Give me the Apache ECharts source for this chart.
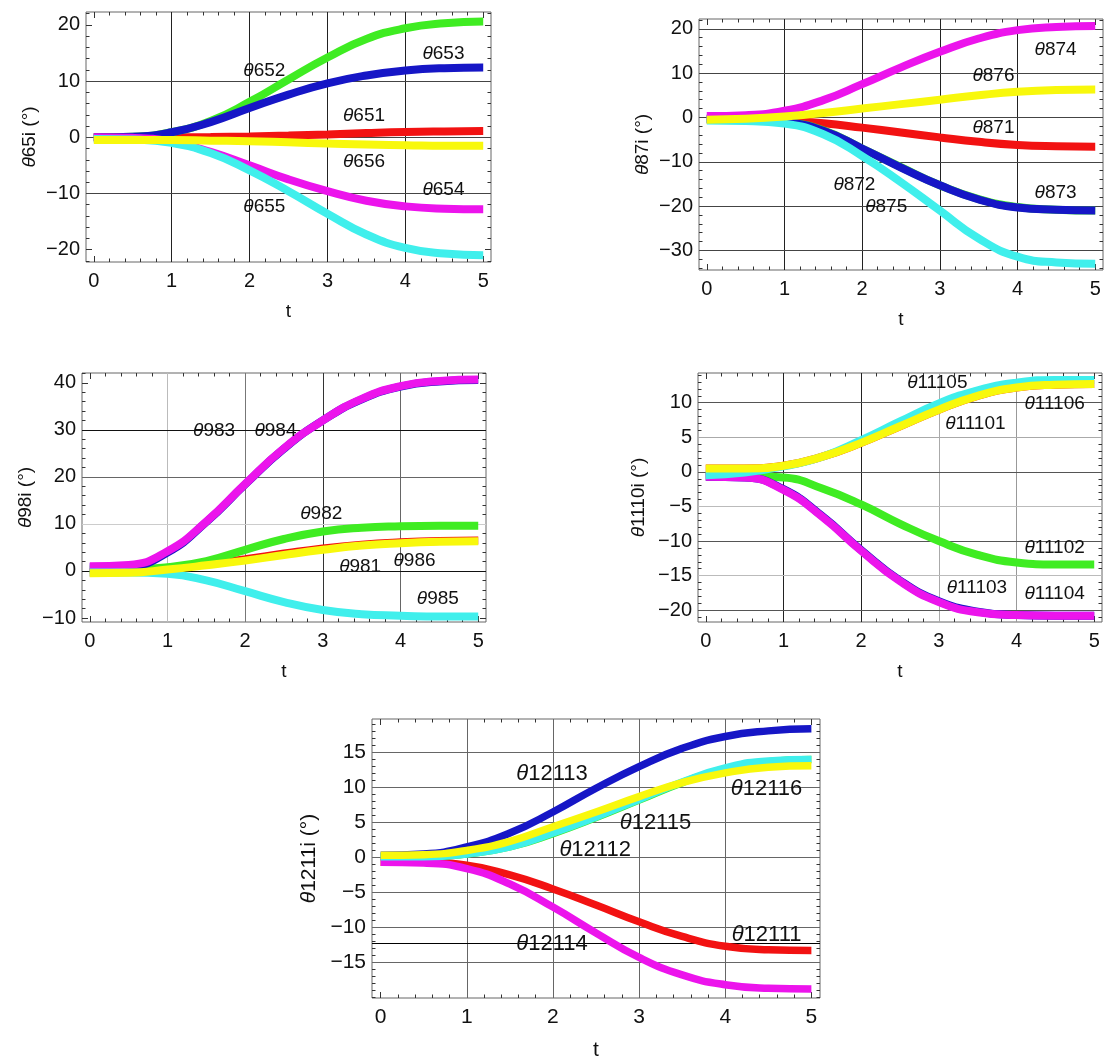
<!DOCTYPE html>
<html><head><meta charset="utf-8">
<script src="https://cdn.jsdelivr.net/npm/echarts@6/dist/echarts.min.js"></script>
<style>html,body{margin:0;padding:0;background:#fff}#c{width:1104px;height:1057px}</style>
</head><body><div id="c"></div>
<script>
// ---------- data ----------
const T = [0, 0.5, 1, 1.5, 2, 2.5, 3, 3.5, 4, 4.5, 5];
const xTicks = [0, 1, 2, 3, 4, 5];

// panel θ65i
const th651 = [0, 0, 0, 0.05, 0.15, 0.3, 0.5, 0.75, 0.95, 1.05, 1.1];
const th652 = [0, 0.1, 0.9, 2.9, 6.3, 10.3, 14.2, 17.5, 19.4, 20.3, 20.6];
const th653 = [0, 0.1, 0.9, 2.7, 5.2, 7.6, 9.6, 11.0, 11.9, 12.3, 12.4];
const th654 = [0, -0.1, -0.8, -2.6, -5.0, -7.5, -9.6, -11.3, -12.3, -12.7, -12.8];
const th655 = [-0.3, -0.4, -1.0, -2.8, -5.9, -9.6, -13.6, -17.3, -19.7, -20.7, -21.0];
const th656 = [-0.5, -0.5, -0.5, -0.6, -0.7, -0.9, -1.1, -1.3, -1.4, -1.5, -1.5];
const yTicks65 = [-20, -10, 0, 10, 20];
const labels65 = [["θ652", 2.19, 11.8], ["θ653", 4.49, 14.8], ["θ651", 3.47, 3.8], ["θ656", 3.47, -4.3], ["θ654", 4.49, -9.4], ["θ655", 2.19, -12.3]];

// panel θ87i
const th871 = [-0.5, -0.5, -0.7, -1.3, -2.3, -3.4, -4.5, -5.5, -6.2, -6.5, -6.6];
const th872 = [-0.3, -0.4, -1.0, -2.9, -7.0, -11.2, -15.3, -18.4, -20.2, -20.8, -21.0];
const th873 = [-0.3, -0.4, -1.0, -3.0, -7.0, -11.3, -15.3, -18.5, -20.3, -20.8, -21.0];
const th874 = [0.3, 0.5, 1.5, 3.9, 7.5, 11.3, 14.8, 17.8, 19.7, 20.4, 20.6];
const th875 = [-0.7, -0.8, -1.4, -3.8, -8.7, -14.6, -21.0, -27.3, -31.4, -32.7, -33.0];
const th876 = [-0.5, -0.3, 0.2, 1.0, 2.0, 3.0, 4.0, 5.0, 5.8, 6.2, 6.3];
const yTicks87 = [-30, -20, -10, 0, 10, 20];
const labels87 = [["θ874", 4.49, 15.3], ["θ876", 3.69, 9.4], ["θ871", 3.69, -2.4], ["θ872", 1.9, -15.1], ["θ875", 2.31, -20.1], ["θ873", 4.49, -17.0]];

// panel θ98i
const th981 = [-0.3, -0.2, 0.5, 1.4, 2.5, 3.7, 4.8, 5.6, 6.1, 6.4, 6.5];
const th982 = [0.3, 0.3, 0.8, 2.1, 4.5, 6.8, 8.4, 9.2, 9.5, 9.6, 9.6];
const th983 = [0.8, 1.0, 3.9, 10.4, 18.4, 26.0, 32.0, 36.5, 39.2, 40.3, 40.6];
const th984 = [1.0, 1.3, 4.2, 10.5, 18.5, 26.1, 32.0, 36.6, 39.3, 40.4, 40.7];
const th985 = [-0.3, -0.3, -0.6, -2.0, -4.3, -6.6, -8.3, -9.2, -9.5, -9.7, -9.7];
const th986 = [-0.5, -0.4, 0.3, 1.2, 2.2, 3.4, 4.5, 5.4, 5.9, 6.2, 6.3];
const yTicks98 = [-10, 0, 10, 20, 30, 40];
const labels98 = [["θ983", 1.6, 29.9], ["θ984", 2.39, 29.9], ["θ982", 2.98, 12.1], ["θ981", 3.48, 0.8], ["θ986", 4.18, 2.2], ["θ985", 4.48, -6.0]];

// panel θ1110i
const th11101 = [0.5, 0.5, 0.9, 2.2, 4.2, 6.6, 9.0, 11.0, 12.2, 12.6, 12.7];
const th11102 = [-0.7, -0.6, -0.8, -2.4, -4.7, -7.5, -10.0, -12.0, -13.1, -13.4, -13.4];
const th11103 = [-0.7, -0.8, -2.5, -6.4, -11.3, -15.7, -18.7, -20.2, -20.7, -20.8, -20.8];
const th11104 = [-0.7, -0.8, -2.6, -6.5, -11.4, -15.8, -18.8, -20.3, -20.7, -20.8, -20.8];
const th11105 = [-0.5, -0.1, 0.8, 2.2, 4.6, 7.3, 9.9, 11.8, 12.9, 13.3, 13.3];
const th11106 = [0.5, 0.5, 0.9, 2.2, 4.2, 6.6, 9.0, 11.0, 12.2, 12.6, 12.7];
const yTicks1110 = [-20, -15, -10, -5, 0, 5, 10];
const labels1110 = [["θ11105", 2.98, 12.9], ["θ11106", 4.49, 9.9], ["θ11101", 3.47, 6.9], ["θ11102", 4.49, -10.9], ["θ11103", 3.49, -16.8], ["θ11104", 4.49, -17.6]];

// panel θ1211i
const th12111 = [-0.7, -0.7, -1.1, -2.5, -4.5, -6.8, -9.2, -11.3, -12.7, -13.2, -13.3];
const th12112 = [0.1, 0.1, 0.5, 1.5, 3.4, 5.7, 8.2, 10.7, 12.7, 13.7, 14.0];
const th12113 = [0.3, 0.5, 1.5, 3.5, 6.5, 9.9, 13.0, 15.6, 17.3, 18.1, 18.4];
const th12114 = [-0.7, -0.8, -1.6, -3.8, -7.1, -10.8, -14.3, -16.8, -18.2, -18.7, -18.8];
const th12115 = [0.1, 0.1, 0.5, 1.5, 3.5, 5.8, 8.3, 10.8, 12.8, 13.8, 14.0];
const th12116 = [0.3, 0.4, 1.0, 2.3, 4.4, 6.5, 8.7, 10.7, 12.1, 12.9, 13.1];
const yTicks1211 = [-15, -10, -5, 0, 5, 10, 15];
const labels1211 = [["θ12113", 1.99, 11.9], ["θ12116", 4.48, 9.8], ["θ12115", 3.19, 5.0], ["θ12112", 2.49, 1.1], ["θ12114", 1.99, -12.4], ["θ12111", 4.48, -11.1]];
const refLine1211 = -12.2;

// ---------- styling / layout ----------
const COLORS = ['#f21212', '#3fec22', '#1616c6', '#ec14ec', '#40efec', '#f8f80c'];
const FONT = '"Liberation Sans", Arial, sans-serif';

const panels = [
  {box: [86, 12, 405, 250], yMin: -22.2, yMax: 22.3, yTicks: yTicks65, minor: 2, yName: '65i',
   series: [th651, th652, th653, th654, th655, th656], labels: labels65,
   hLines: [[10, '#444'], [0, '#444'], [-10, '#444']],
   vLines: [[1, '#222'], [2, '#222'], [3, '#222'], [4, '#222']],
   tickFont: 20, labFont: 19, nameFont: 19, lw: 8, nameGap: 47, tGap: 40},
  {box: [699, 19, 404, 251], yMin: -34.4, yMax: 22.2, yTicks: yTicks87, minor: 2, yName: '87i',
   series: [th871, th872, th873, th874, th875, th876], labels: labels87,
   hLines: [[20, '#444'], [10, '#444'], [0, '#444'], [-10, '#444'], [-20, '#444'], [-30, '#444']],
   vLines: [[1, '#222'], [2, '#222'], [3, '#222'], [4, '#222']],
   tickFont: 20, labFont: 19, nameFont: 19, lw: 8, nameGap: 47, tGap: 40},
  {box: [82, 373, 404, 249], yMin: -10.85, yMax: 42.1, yTicks: yTicks98, minor: 2, yName: '98i',
   series: [th981, th982, th983, th984, th985, th986], labels: labels98,
   hLines: [[30, '#111'], [20, '#666'], [10, '#ccc'], [0, '#111']],
   vLines: [[1, '#bbb'], [2, '#777'], [3, '#333'], [4, '#666']],
   tickFont: 20, labFont: 19, nameFont: 19, lw: 8, nameGap: 47, tGap: 40},
  {box: [698, 373, 404, 249], yMin: -21.7, yMax: 14.3, yTicks: yTicks1110, minor: 1, yName: '1110i',
   series: [th11101, th11102, th11103, th11104, th11105, th11106], labels: labels1110,
   hLines: [[10, '#555'], [5, '#aaa'], [0, '#555'], [-5, '#bbb'], [-10, '#555'], [-15, '#bbb'], [-20, '#555']],
   vLines: [[1, '#222'], [2, '#222'], [3, '#aaa'], [4, '#999']],
   tickFont: 20, labFont: 19, nameFont: 19, lw: 8, nameGap: 50, tGap: 40},
  {box: [372, 719, 448, 279], yMin: -20.1, yMax: 19.8, yTicks: yTicks1211, minor: 1, yName: '1211i',
   series: [th12111, th12112, th12113, th12114, th12115, th12116], labels: labels1211,
   hLines: [[15, '#666'], [10, '#666'], [5, '#666'], [0, '#666'], [-5, '#666'], [-10, '#666'], [-15, '#666'], [refLine1211, '#000']],
   vLines: [[1, '#666'], [2, '#666'], [3, '#666'], [4, '#666']],
   tickFont: 21, labFont: 22, nameFont: 21, lw: 7.5, nameGap: 52, tGap: 42}
];

const fmtNum = v => (v < 0 ? '\u2212' + Math.abs(v) : String(v));
function minors(lo, hi, step, majors) {
  const out = [];
  for (let k = Math.ceil(lo / step - 1e-9); k * step <= hi + 1e-9; k++) {
    const v = +(k * step).toFixed(6);
    if (!majors.includes(v)) out.push(v);
  }
  return out;
}

const option = {animation: false, backgroundColor: '#fff', grid: [], xAxis: [], yAxis: [], series: []};
const X_MIN = -0.1, X_MAX = 5.1;

panels.forEach((p, i) => {
  option.grid.push({left: p.box[0], top: p.box[1], width: p.box[2], height: p.box[3],
    show: true, borderColor: '#666', borderWidth: 1, backgroundColor: '#fff', containLabel: false, outerBoundsMode: 'none'});
  const xm = minors(X_MIN, X_MAX, 0.2, xTicks);
  const ym = minors(p.yMin, p.yMax, p.minor, p.yTicks);
  const axis = (dim, pos, vals, len, withLabel) => ({
    type: 'value', gridIndex: i, position: pos, offset: 0,
    min: dim === 'x' ? X_MIN : p.yMin, max: dim === 'x' ? X_MAX : p.yMax,
    axisLine: {show: false, onZero: false}, splitLine: {show: false}, silent: true,
    axisTick: {show: true, inside: true, length: len, customValues: vals, lineStyle: {color: '#333', width: 1}},
    axisLabel: withLabel ? {show: true, customValues: vals, formatter: fmtNum, color: '#111', fontSize: p.tickFont, fontFamily: FONT, margin: dim === 'x' ? 9 : 6}
                         : {show: false}
  });
  const xb = axis('x', 'bottom', xTicks, 6, true);
  xb.name = 't'; xb.nameLocation = 'middle'; xb.nameGap = p.tGap;
  xb.nameTextStyle = {fontSize: p.nameFont, fontFamily: FONT, color: '#111'};
  option.xAxis.push(xb, axis('x', 'bottom', xm, 3.5, false), axis('x', 'top', xTicks, 6, false), axis('x', 'top', xm, 3.5, false));
  const yl = axis('y', 'left', p.yTicks, 6, true);
  yl.name = '{th|θ}' + p.yName + ' (°)'; yl.nameLocation = 'middle'; yl.nameGap = p.nameGap; yl.nameRotate = 90;
  yl.nameTextStyle = {fontSize: p.nameFont, fontFamily: FONT, color: '#111', rich: {th: {fontStyle: 'italic', fontSize: p.nameFont, fontFamily: FONT, color: '#111'}}};
  option.yAxis.push(yl, axis('y', 'left', ym, 3.5, false), axis('y', 'right', p.yTicks, 6, false), axis('y', 'right', ym, 3.5, false));

  const xi = 4 * i, yi = 4 * i;
  const ml = [];
  p.vLines.forEach(([v, c]) => ml.push({xAxis: v, lineStyle: {color: c, width: 1, type: 'solid'}}));
  p.hLines.forEach(([v, c]) => ml.push({yAxis: v, lineStyle: {color: c, width: 1, type: 'solid'}}));
  option.series.push({type: 'line', xAxisIndex: xi, yAxisIndex: yi, data: [], z: 1, silent: true,
    markLine: {silent: true, z: 1, animation: false, symbol: ['none', 'none'], label: {show: false}, data: ml}});
  p.series.forEach((vals, k) => {
    option.series.push({type: 'line', xAxisIndex: xi, yAxisIndex: yi, z: 2, silent: true,
      data: T.map((t, j) => [t, vals[j]]), smooth: 0.5, symbol: 'none', showSymbol: false,
      lineStyle: {width: p.lw, color: COLORS[k], cap: 'butt'}, itemStyle: {color: COLORS[k]}});
  });
  option.series.push({type: 'line', xAxisIndex: xi, yAxisIndex: yi, data: [], z: 10, silent: true,
    markPoint: {silent: true, z: 10, animation: false, symbol: 'circle', symbolSize: 0,
      label: {show: true, position: 'inside', color: '#111', fontSize: p.labFont, fontFamily: FONT,
        formatter: q => '{th|θ}' + q.name.slice(1),
        rich: {th: {fontStyle: 'italic', fontSize: p.labFont, fontFamily: FONT, color: '#111'}}},
      data: p.labels.map(([n, t, y]) => ({name: n, coord: [t, y]}))}});
});

const chart = echarts.init(document.getElementById('c'), null, {renderer: 'canvas'});
chart.setOption(option);
</script>
</body></html>
